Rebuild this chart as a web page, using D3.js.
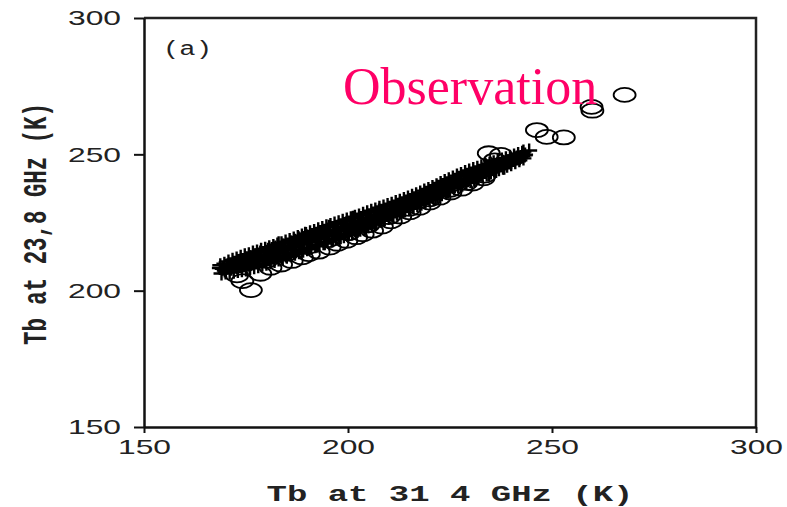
<!DOCTYPE html>
<html>
<head>
<meta charset="utf-8">
<script src="https://cdn.jsdelivr.net/npm/d3@7"></script>
<style>
  body { margin: 0; background: #fff; }
  svg { display: block; }
</style>
</head>
<body>
<div id="chart"></div>
<script>
const w = 787;
const h = 507;

const xTicks = [150, 200, 250, 300];
const yTicks = [150, 200, 250, 300];

// modelo (+)
const crosses = [
  [168.6,208.3],[169.8,207.4],[170.5,209.3],[171.4,208.0],[172.0,210.1],[172.8,208.7],[173.5,211.0],[174.1,209.2],
  [174.8,211.8],[175.4,209.6],[176.0,212.3],[176.7,210.4],[177.3,213.0],[177.9,211.1],[178.5,214.0],[179.1,210.9],
  [179.8,212.8],[180.4,215.0],[181.0,211.6],[181.6,213.7],[182.2,215.8],[182.9,212.2],[183.5,214.4],[184.1,216.6],
  [184.8,212.9],[185.4,215.2],[186.0,217.7],[186.7,213.8],[187.3,216.0],[187.9,219.2],[188.6,214.6],[189.2,217.1],
  [189.9,219.9],[190.5,215.6],[191.1,218.0],[191.8,220.6],[192.4,216.5],[193.0,219.0],[193.7,221.4],[194.3,217.4],
  [195.0,219.9],[195.6,222.3],[196.3,218.5],[196.9,220.8],[197.6,223.4],[198.2,219.6],[198.9,222.0],[199.5,224.6],
  [200.2,220.7],[200.9,223.2],[201.6,225.7],[202.3,221.9],[203.0,224.3],[203.7,226.6],[204.4,223.1],[205.1,225.4],
  [205.8,227.6],[206.6,224.5],[207.3,226.7],[208.0,228.8],[208.8,225.9],[209.5,228.0],[210.3,230.1],[211.1,227.5],
  [211.9,229.6],[212.7,231.6],[213.5,229.0],[214.3,231.1],[215.2,233.0],[216.0,230.7],[216.9,232.8],[217.8,234.6],
  [218.7,232.5],[219.6,234.5],[220.6,236.3],[221.5,234.3],[222.5,236.5],[223.5,238.2],[224.5,236.3],[225.6,238.6],
  [226.6,240.2],[227.7,238.4],[228.8,240.6],[229.9,242.0],[231.0,240.5],[232.2,242.8],[233.4,244.0],[234.6,242.6],
  [235.8,244.6],[237.0,245.7],[238.3,245.1],[239.5,247.0],[240.8,247.9],[242.1,248.6],[243.4,249.9],[244.4,251.4],
  [243.0,251.0],[171.0,209.0],[174.5,210.5],[178.0,212.4],[181.3,214.6],[184.4,214.9],[187.0,218.3],[190.0,217.8],
  [193.3,220.0],[196.6,221.7],[199.8,222.5],[203.3,225.0],[206.9,227.2],[210.6,228.9],[214.6,232.0],[218.9,233.6],
  [223.0,237.1],[227.2,239.3],[231.6,241.7],[236.3,243.9],[183.0,217.4],[189.5,220.9],[195.3,223.4],[201.2,226.7],
  [207.6,229.4],
  [169.0,206.3],[169.3,208.0],[168.7,209.3],[170.0,206.7],[170.3,208.5],[169.7,209.9],[171.0,206.6],[171.3,208.9],
  [170.7,210.7],[172.0,206.9],[172.3,209.3],[171.7,211.3],[173.0,207.2],[173.3,209.7],[172.7,211.8],[174.0,207.5],
  [174.3,210.1],[173.7,212.4],[175.0,207.8],[175.3,210.5],[174.7,213.0],[176.0,208.2],[176.3,210.9],[175.7,213.4],
  [177.0,208.6],[177.3,211.4],[176.7,214.0],[178.0,209.0],[178.3,211.8],[177.7,214.4],[179.0,209.5],[179.3,212.3],
  [178.7,215.0],[180.0,209.9],[180.3,212.7],[179.7,215.4],[181.0,210.4],[181.3,213.2],[180.7,215.9],[182.0,210.9],
  [182.3,213.7],[181.7,216.4],[183.0,211.4],[183.3,214.2],[182.7,216.9],[184.0,211.9],[184.3,214.7],[183.7,217.4],
  [185.0,212.4],[185.3,215.2],[184.7,218.0],[186.0,213.0],[186.3,215.8],[185.7,218.6],[187.0,213.5],[187.3,216.3],
  [186.7,219.1],[188.0,214.1],[188.3,216.9],[187.7,219.7],[189.0,214.6],[189.3,217.4],[188.7,220.2],[190.0,215.2],
  [190.3,218.0],[189.7,220.8],[191.0,215.8],[191.3,218.6],[190.7,221.4],[192.0,216.3],[192.3,219.1],[191.7,221.9],
  [193.0,216.9],[193.3,219.7],[192.7,222.5],[194.0,217.4],[194.3,220.2],[193.7,223.0],[195.0,218.0],[195.3,220.8],
  [194.7,223.6],[196.0,218.5],[196.3,221.3],[195.7,224.1],[197.0,219.0],[197.3,221.8],[196.7,224.6],[198.0,219.5],
  [198.3,222.3],[197.7,225.1],[199.0,220.0],[199.3,222.8],[198.7,225.6],[200.0,220.5],[200.3,223.3],[199.7,226.1],
  [201.0,221.1],[201.3,223.9],[200.7,226.6],[202.0,221.7],[202.3,224.5],[201.7,227.1],[203.0,222.3],[203.3,225.1],
  [202.7,227.6],[204.0,223.0],[204.3,225.8],[203.7,228.2],[205.0,223.6],[205.3,226.4],[204.7,228.8],[206.0,224.3],
  [206.3,227.0],[205.7,229.3],[207.0,224.9],[207.3,227.6],[206.7,229.8],[208.0,225.6],[208.3,228.3],[207.7,230.4],
  [209.0,226.3],[209.3,228.9],[208.7,230.9],[210.0,226.9],[210.3,229.5],[209.7,231.4],[211.0,227.6],[211.3,230.1],
  [210.7,231.9],[212.0,228.2],[212.3,230.7],[211.7,232.5],[213.0,228.8],[213.3,231.3],[212.7,233.0],[214.0,229.4],
  [214.3,231.9],[213.7,233.6],[215.0,230.0],[215.3,232.5],[214.7,234.2],[216.0,230.6],[216.3,233.1],[215.7,234.8],
  [217.0,231.3],[217.3,233.8],[216.7,235.4],[218.0,231.9],[218.3,234.4],[217.7,236.0],[219.0,232.6],[219.3,235.1],
  [218.7,236.7],[220.0,233.2],[220.3,235.7],[219.7,237.3],[221.0,233.9],[221.3,236.4],[220.7,238.0],[222.0,234.6],
  [222.3,237.1],[221.7,238.7],[223.0,235.4],[223.3,237.9],[222.7,239.5],[224.0,236.1],[224.3,238.6],[223.7,240.2],
  [225.0,236.8],[225.3,239.3],[224.7,240.9],[226.0,237.5],[226.3,239.9],[225.7,241.5],[227.0,238.2],[227.3,240.6],
  [226.7,242.2],[228.0,238.8],[228.3,241.2],[227.7,242.8],[229.0,239.5],[229.3,241.9],[228.7,243.5],[230.0,240.2],
  [230.3,242.5],[229.7,244.1],[231.0,240.8],[231.3,243.1],[230.7,244.6],[232.0,241.4],[232.3,243.6],[231.7,245.1],
  [233.0,242.0],[233.3,244.2],[232.7,245.6],[234.0,242.6],[234.3,244.7],[233.7,246.1],[235.0,243.3],[235.3,245.3],
  [234.7,246.6],[236.0,243.9],[236.3,245.8],[235.7,247.1],[237.0,244.5],[237.3,246.4],[236.7,247.6],[238.0,245.1],
  [238.3,246.9],[237.7,248.1],[239.0,245.8],[239.3,247.5],[238.7,248.6],[240.0,246.4],[240.3,248.0],[239.7,249.1],
  [241.0,247.1],[241.3,248.5],[240.7,249.6],[242.0,247.8],[242.3,249.0],[241.7,250.1],[243.0,248.5],[243.3,249.6],
  [242.7,250.6]
];

// observacion (o)
const circles = [
  [176.2,200.2],[174.1,203.5],[172.8,205.6],[178.5,206.2],[181.0,208.4],[183.6,209.6],[186.2,210.9],[188.7,212.2],
  [190.4,213.4],[192.8,214.3],[195.5,215.8],[197.4,217.2],[199.6,218.3],[202.0,219.6],[203.6,220.7],[205.9,222.0],
  [208.3,223.5],[210.5,225.4],[212.8,227.2],[215.1,228.7],[217.5,230.4],[220.0,232.3],[222.4,234.1],[225.1,236.0],
  [227.8,237.4],[230.5,239.3],[233.2,241.2],
  [180.0,211.0],[185.0,213.5],[190.0,216.0],[195.0,218.5],[200.0,221.0],[205.0,224.0],[210.0,227.0],[215.0,230.0],
  [220.0,233.5],[225.0,237.0],[229.0,239.5],[233.5,242.2],
  [234.5,250.4],[237.5,249.8],[236.0,247.8],[246.3,258.9],[248.7,256.4],[252.9,256.2],[259.7,267.4],[259.9,266.0],
  [267.8,271.8]
];

const xScale = d3.scaleLinear().domain([150, 300]).range([144, 756]);
const yScale = d3.scaleLinear().domain([150, 300]).range([427, 18]);

const svg = d3.select("#chart").append("svg").attr("width", w).attr("height", h);

// Marco
svg.append("path")
  .attr("d", `M${xScale(150)},${yScale(300)}H${xScale(300)}V${yScale(150)}`)
  .attr("fill", "none")
  .attr("stroke", "#222")
  .attr("stroke-width", 2.5);

// Ejes
const xAxis = d3.axisBottom(xScale).tickValues(xTicks).tickSize(6).tickSizeOuter(0).tickPadding(6);
const yAxis = d3.axisLeft(yScale).tickValues(yTicks).tickSize(10).tickSizeOuter(0).tickPadding(13);

const gx = svg.append("g").attr("transform", `translate(0,${yScale(150)})`).call(xAxis);
const gy = svg.append("g").attr("transform", `translate(${xScale(150)},0)`).call(yAxis);

[gx, gy].forEach((g) => {
  g.select(".domain").attr("stroke", "#111").attr("stroke-width", 2.5);
  g.selectAll(".tick line").attr("stroke", "#111").attr("stroke-width", 2);
  g.selectAll(".tick text")
    .attr("fill", "#222")
    .style("font-family", "'Liberation Sans', Arial, sans-serif")
    .style("font-size", "21px")
    .attr("textLength", 53)
    .attr("lengthAdjust", "spacingAndGlyphs");
});

// Puntos: circulos
svg.append("g")
  .selectAll("ellipse")
  .data(circles)
  .enter()
  .append("ellipse")
  .attr("cx", (d) => xScale(d[0]))
  .attr("cy", (d) => yScale(d[1]))
  .attr("rx", 11)
  .attr("ry", 7)
  .attr("fill", "none")
  .attr("stroke", "#000")
  .attr("stroke-width", 1.8);

// Puntos: cruces
svg.append("g")
  .selectAll("path")
  .data(crosses)
  .enter()
  .append("path")
  .attr("d", (d) => {
    const cx = xScale(d[0]);
    const cy = yScale(d[1]);
    return `M${cx - 8},${cy}H${cx + 8}M${cx},${cy - 7}V${cy + 7}`;
  })
  .attr("stroke", "#000")
  .attr("stroke-width", 2.4);

// Textos
svg.append("text")
  .attr("x", 163)
  .attr("y", 55)
  .attr("textLength", 49)
  .attr("lengthAdjust", "spacingAndGlyphs")
  .style("font-family", "'Liberation Mono', monospace")
  .style("font-size", "20px")
  .attr("fill", "#222")
  .text("(a)");

svg.append("text")
  .attr("x", 343)
  .attr("y", 104)
  .style("font-family", "'Liberation Serif', 'Times New Roman', serif")
  .style("font-size", "52px")
  .attr("fill", "#ff0066")
  .text("Observation");

svg.append("text")
  .attr("x", 450)
  .attr("y", 501)
  .attr("text-anchor", "middle")
  .attr("textLength", 367)
  .attr("lengthAdjust", "spacingAndGlyphs")
  .style("font-family", "'Liberation Mono', monospace")
  .style("font-size", "22px")
  .style("font-weight", "bold")
  .attr("fill", "#222")
  .text("Tb at 31 4 GHz (K)");

svg.append("text")
  .attr("transform", "translate(34,224) scale(1.5,1) rotate(-90)")
  .attr("text-anchor", "middle")
  .attr("dy", "0.35em")
  .attr("textLength", 242)
  .attr("lengthAdjust", "spacingAndGlyphs")
  .style("font-family", "'Liberation Mono', monospace")
  .style("font-size", "22px")
  .style("font-weight", "bold")
  .attr("fill", "#222")
  .text("Tb at 23,8 GHz (K)");
</script>
</body>
</html>
